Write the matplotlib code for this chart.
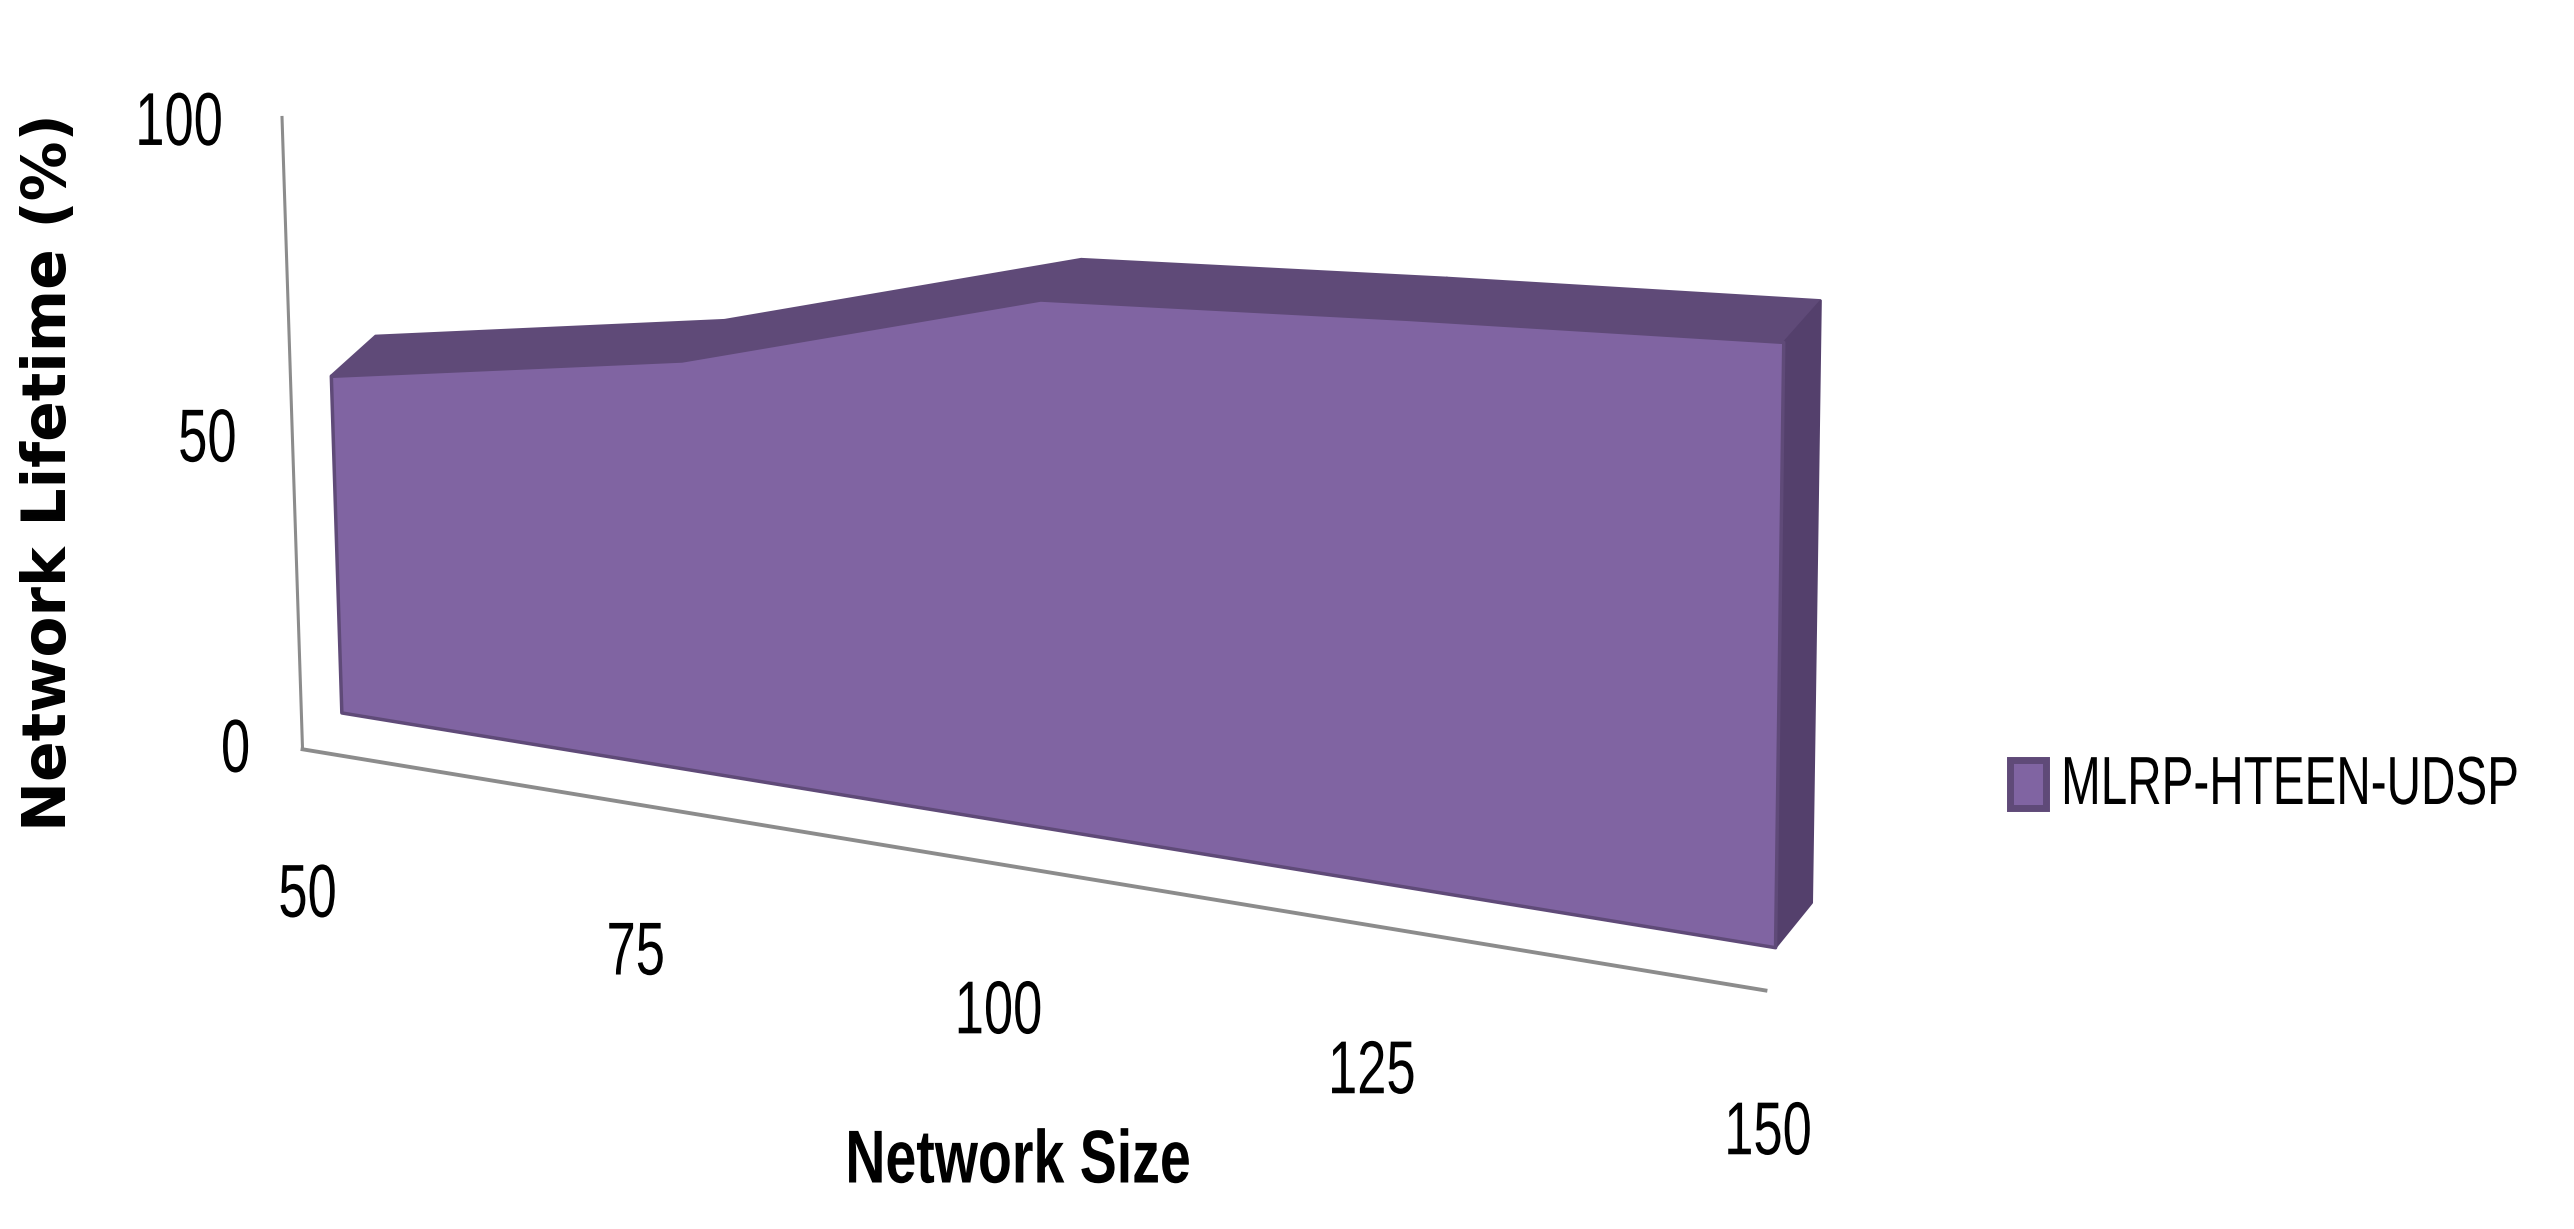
import matplotlib
matplotlib.use("Agg")
import matplotlib.pyplot as plt
from matplotlib.patches import Rectangle
from matplotlib.patheffects import AbstractPathEffect
from matplotlib.transforms import Affine2D, Bbox
from mpl_toolkits.mplot3d import proj3d
from mpl_toolkits.mplot3d.art3d import Poly3DCollection

# data
network_size = [50, 75, 100, 125, 150]
lifetime = [54, 65, 83, 88.5, 93.5]
y_ticks = [0, 50, 100]
series_name = 'MLRP-HTEEN-UDSP'

front_col = '#8064A2'
top_col = '#5F4A78'
side_col = '#54406C'
axis_col = '#8C8C8C'

W, H = 2574, 1229
fig = plt.figure(figsize=(W / 100, H / 100), dpi=100)

# big square axes so nothing gets clipped, centre at (cx, cy) in px from top left
S = 2800
cx, cy = 1024, 542
ax = fig.add_axes([(cx - S / 2) / W, (H - cy - S / 2) / H, S / W, S / H], projection='3d')
ax.set_axis_off()
ax.set_proj_type('persp', focal_length=0.95)
ax.view_init(elev=24, azim=-68, roll=0.5)
ax.set_box_aspect((1558, 236, 688), zoom=0.605)
ax.set_xlim(50, 151.5)
ax.set_ylim(0, 1)
ax.set_zlim(0, 100)

y_front, y_back = 0.4, 0.86

# front face, top strips, right side of the area
front = [(x, y_front, 0) for x in network_size[::-1]] + [(x, y_front, v) for x, v in zip(network_size, lifetime)]
tops = []
for i in range(len(network_size) - 1):
    x0, x1 = network_size[i], network_size[i + 1]
    v0, v1 = lifetime[i], lifetime[i + 1]
    tops.append([(x0, y_front, v0), (x1, y_front, v1), (x1, y_back, v1), (x0, y_back, v0)])
xr, vr = network_size[-1], lifetime[-1]
side = [(xr, y_front, 0), (xr, y_back, 0), (xr, y_back, vr), (xr, y_front, vr)]

ax.add_collection3d(Poly3DCollection(tops, facecolors=top_col, edgecolors=top_col, linewidths=1.5, shade=False))
ax.add_collection3d(Poly3DCollection([side], facecolors=side_col, edgecolors=side_col, linewidths=1.5, shade=False))
ax.add_collection3d(Poly3DCollection([front], facecolors=front_col, edgecolors=top_col, linewidths=2.5, shade=False))

# axis lines
ax.plot([50, 50], [0, 0], [0, 100], color=axis_col, lw=2.2)
ax.plot([50, 151.5], [0, 0], [0, 0], color=axis_col, lw=2.8)

fig.canvas.draw()
M = ax.get_proj()
renderer = fig.canvas.get_renderer()


# the original text is squashed sideways, no narrow font here so do it on the glyph paths
class Squeeze(AbstractPathEffect):
    def __init__(self, sx, x0):
        super().__init__()
        self.sx = sx
        self.x0 = x0

    def draw_path(self, renderer, gc, tpath, affine, rgbFace=None):
        squash = Affine2D().translate(-self.x0, 0).scale(self.sx, 1).translate(self.x0, 0)
        renderer.draw_path(gc, tpath, affine + squash, rgbFace)


def squeeze(t, sx):
    bb = t.get_window_extent(renderer)
    mid = (bb.x0 + bb.x1) / 2
    half = (bb.x1 - bb.x0) / 2 * sx
    t.set_path_effects([Squeeze(sx, mid)])
    box = Bbox.from_extents(mid - half, bb.y0, mid + half, bb.y1)
    t.get_window_extent = lambda renderer=None, dpi=None: box


def label_at(x, y, z, s, dx, dy):
    px, py, _ = proj3d.proj_transform(x, y, z, M)
    t = ax.annotate(s, (px, py), xytext=(dx, dy), textcoords='offset pixels', ha='center', va='center',
                    family='Liberation Sans', fontsize=54, color='black', annotation_clip=False)
    squeeze(t, 0.7)


for v in y_ticks:
    label_at(50, 0, v, str(v), -67 - 0.36 * v, -3 - 0.05 * v)
label_nudge = [8, -14, -8, 2, 28]
for x, nudge in zip(network_size, label_nudge):
    label_at(x, 0, 0, str(x), -3 + nudge, -148)

xlab = fig.text(1018 / W, 1 - 1163 / H, 'Network Size', family='Liberation Sans', fontsize=54,
                fontweight='bold', ha='center', va='center')
squeeze(xlab, 0.74)
fig.text(50 / W, 1 - 472 / H, 'Network Lifetime (%)', family='DejaVu Sans', fontsize=43, fontweight='bold',
         rotation=90, ha='center', va='center')

# legend
fig.add_artist(Rectangle((2010 / W, 1 - 808 / H), 36 / W, 48 / H, transform=fig.transFigure,
                         facecolor=front_col, edgecolor=top_col, linewidth=5))
leg = fig.text(2290 / W, 1 - 786 / H, series_name, family='Liberation Sans', fontsize=49, ha='center', va='center')
squeeze(leg, 0.7)

fig.savefig('out.png', dpi=100)
